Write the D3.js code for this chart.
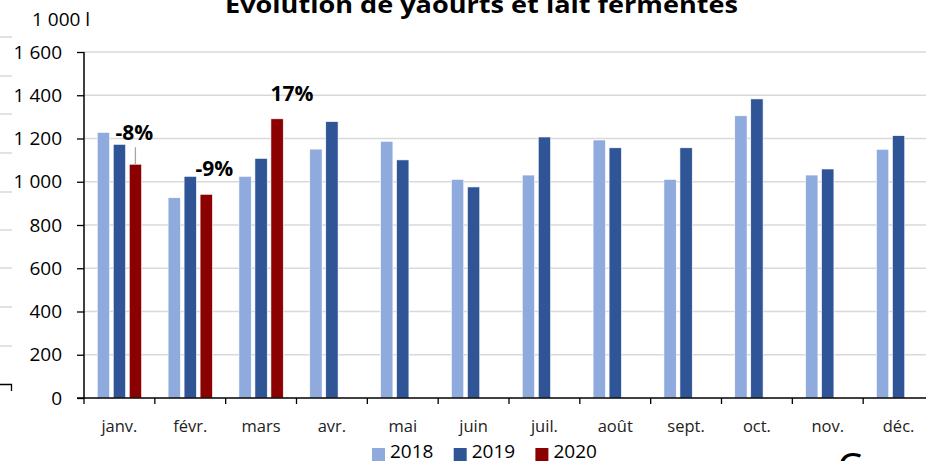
<!DOCTYPE html>
<html>
<head>
<meta charset="utf-8">
<script src="https://cdn.jsdelivr.net/npm/d3@7"></script>
<style>
  body { margin: 0; background: #fff; overflow: hidden; }
  svg { display: block; font-family: "Open Sans", sans-serif; }
</style>
</head>
<body>
<div id="chart"></div>
<script>
  // data (1 000 l)
  const months = ["janv.", "févr.", "mars", "avr.", "mai", "juin", "juil.", "août", "sept.", "oct.", "nov.", "déc."];
  const years = ["2018", "2019", "2020"];
  const v2018 = [1228, 926, 1025, 1151, 1187, 1011, 1031, 1193, 1011, 1305, 1031, 1150];
  const v2019 = [1173, 1025, 1108, 1278, 1101, 976, 1207, 1157, 1157, 1383, 1059, 1213];
  const v2020 = [1081, 942, 1291];
  const yTicks = [0, 200, 400, 600, 800, 1000, 1200, 1400, 1600];
  const pctLabels = ["-8%", "-9%", "17%"];

  const colors = { "2018": "#8faadc", "2019": "#2f5597", "2020": "#8b0000" };

  const W = 926, H = 461;
  const svg = d3.select("#chart").append("svg")
    .attr("width", W)
    .attr("height", H);

  // plot area (runs off the right edge like the original)
  const pLeft = 84, pRight = 934, pTop = 52, pBottom = 398;

  const x0 = d3.scaleBand().domain(months).range([pLeft, pRight]);
  const x1 = d3.scaleBand().domain(years).range([-24, 24])
    .paddingInner(0.23).paddingOuter(0.115);
  const y = d3.scaleLinear().domain([0, 1600]).range([pBottom, pTop]);

  // title (top is cut off)
  svg.append("text")
    .attr("x", 225).attr("y", 13)
    .attr("textLength", 513).attr("lengthAdjust", "spacingAndGlyphs")
    .style("font-size", "23px").style("font-weight", "bold")
    .text("Évolution de yaourts et lait fermentés");

  // unit
  svg.append("text")
    .attr("x", 32).attr("y", 26)
    .style("font-size", "19px")
    .text("1 000 l");

  // stray marks on the left border
  const stray = [37, 76, 114, 153, 192, 230, 268, 307, 346];
  svg.append("g").selectAll("line").data(stray).join("line")
    .attr("x1", 0).attr("x2", 12)
    .attr("y1", d => d).attr("y2", d => d)
    .attr("stroke", "#d9d9d9").attr("stroke-width", 1.5);
  svg.append("path")
    .attr("d", "M0,384.5H11.5V391")
    .attr("fill", "none").attr("stroke", "#000").attr("stroke-width", 1.3);

  // gridlines
  svg.append("g").selectAll("line")
    .data(yTicks.filter(d => d > 0))
    .join("line")
    .attr("x1", pLeft).attr("x2", W)
    .attr("y1", d => y(d)).attr("y2", d => y(d))
    .attr("stroke", "#d9d9d9").attr("stroke-width", 1.5);

  // bars
  const rows = months.map((m, i) => ({
    month: m,
    values: [
      { year: "2018", v: v2018[i] },
      { year: "2019", v: v2019[i] },
      { year: "2020", v: v2020[i] }
    ].filter(d => d.v != null)
  }));

  svg.append("g")
    .selectAll("g")
    .data(rows)
    .join("g")
    .attr("transform", d => `translate(${x0(d.month) + x0.bandwidth() / 2},0)`)
    .selectAll("rect")
    .data(d => d.values)
    .join("rect")
    .attr("x", d => x1(d.year))
    .attr("width", x1.bandwidth())
    .attr("y", d => y(d.v))
    .attr("height", d => y(0) - y(d.v))
    .attr("fill", d => colors[d.year])
    .attr("stroke", "#fff")
    .attr("stroke-width", 0.6);

  // y axis
  const yAxis = svg.append("g")
    .attr("transform", `translate(${pLeft},0)`)
    .call(d3.axisLeft(y).tickValues(yTicks).tickSize(7).tickPadding(15)
      .tickFormat(d => d3.format(",")(d).replace(/,/g, " ")));
  yAxis.select(".domain").attr("stroke", "#000").attr("stroke-width", 1.5)
    .attr("d", `M0,${pTop}V${pBottom}`);
  yAxis.selectAll(".tick line").attr("stroke", "#000").attr("stroke-width", 1.3);
  yAxis.selectAll(".tick text")
    .style("font-size", "19px").style("font-family", "Open Sans")
    .attr("fill", "#000");

  // x axis: ticks between categories
  const xg = svg.append("g");
  xg.append("line")
    .attr("x1", pLeft - 7).attr("x2", W)
    .attr("y1", pBottom).attr("y2", pBottom)
    .attr("stroke", "#000").attr("stroke-width", 1.5);
  xg.selectAll(".bound")
    .data(months)
    .join("line")
    .attr("class", "bound")
    .attr("x1", d => x0(d)).attr("x2", d => x0(d))
    .attr("y1", pBottom).attr("y2", pBottom + 6)
    .attr("stroke", "#000").attr("stroke-width", 1.3);
  xg.selectAll(".lab")
    .data(months)
    .join("text")
    .attr("class", "lab")
    .attr("x", d => x0(d) + x0.bandwidth() / 2)
    .attr("y", 432)
    .attr("text-anchor", "middle")
    .style("font-size", "16.5px")
    .attr("fill", "#222")
    .text(d => d);

  // percent annotations over 2020 bars
  const pctPos = [
    { dx: 15, v: 1192 },
    { dx: 24, v: 1025 },
    { dx: 31, v: 1375 }
  ];
  svg.append("g").selectAll("text")
    .data(pctLabels)
    .join("text")
    .attr("x", (d, i) => x0(months[i]) + x0.bandwidth() / 2 + pctPos[i].dx)
    .attr("y", (d, i) => y(pctPos[i].v))
    .attr("text-anchor", "middle")
    .style("font-size", "21px").style("font-weight", "bold")
    .text(d => d);

  // leader line for the january label
  const jx = x0(months[0]) + x0.bandwidth() / 2 + x1("2020") + x1.bandwidth() / 2;
  svg.append("line")
    .attr("x1", jx).attr("x2", jx)
    .attr("y1", y(1160)).attr("y2", y(v2020[0]))
    .attr("stroke", "#a6a6a6").attr("stroke-width", 1.3);

  // legend
  const lg = svg.append("g").selectAll("g")
    .data(years)
    .join("g")
    .attr("transform", (d, i) => `translate(${372 + i * 81.7},0)`);
  lg.append("rect")
    .attr("y", 448).attr("width", 13).attr("height", 13)
    .attr("fill", d => colors[d]);
  lg.append("text")
    .attr("x", 18).attr("y", 458)
    .style("font-size", "19px")
    .text(d => d);

  // cut-off letter at the bottom right
  svg.append("text")
    .attr("x", 837).attr("y", 482)
    .style("font-size", "40px")
    .text("C");
</script>
</body>
</html>
